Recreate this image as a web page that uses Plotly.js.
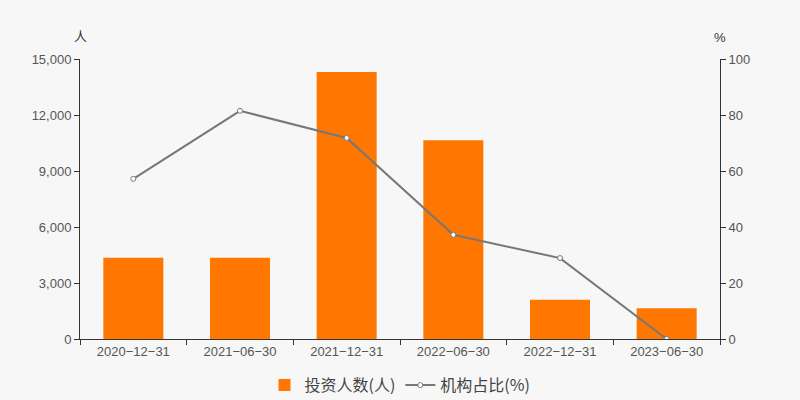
<!DOCTYPE html>
<html><head><meta charset="utf-8">
<script src="https://cdn.plot.ly/plotly-3.0.1.min.js"></script>
<style>body{margin:0;background:#f7f7f7;}#c{width:800px;height:400px;}</style>
</head><body><div id="c"></div>
<script>
var categories = ["2020−12−31","2021−06−30","2021−12−31","2022−06−30","2022−12−31","2023−06−30"];
var investors = [4350, 4350, 14300, 10650, 2100, 1650];
var instPct = [57.2, 81.5, 71.8, 37.2, 28.9, 0];
var seriesNames = ["投资人数(人)", "机构占比(%)"];

var tickFont = "'Liberation Sans', Arial, sans-serif";
var cjkFont = "'Noto Sans CJK SC', 'Liberation Sans', Arial, sans-serif";
var data = [
  {type:"bar", x:categories, y:investors, name:seriesNames[0], marker:{color:"#ff7700"}, width:0.5625, yaxis:"y"},
  {type:"scatter", mode:"lines+markers", x:categories, y:instPct, name:seriesNames[1], yaxis:"y2",
   line:{color:"#777777", width:2}, marker:{symbol:"circle", size:5, color:"#ffffff", line:{color:"#777777", width:1}}}
];
var layout = {
  width:800, height:400,
  paper_bgcolor:"#f7f7f7", plot_bgcolor:"#f7f7f7",
  margin:{l:80, r:80, t:59, b:61, autoexpand:false},
  font:{family:tickFont, size:13, color:"#555"},
  showlegend:true,
  legend:{orientation:"h", x:0.5, xanchor:"center", y:-0.165, yanchor:"middle", font:{family:cjkFont, size:16, color:"#444"}},
  xaxis:{type:"category", showline:true, linecolor:"#333", linewidth:1, ticks:"outside", tickson:"boundaries", ticklen:5, tickcolor:"#333",
         showgrid:false, zeroline:false, tickfont:{family:tickFont, size:13, color:"#555"}},
  yaxis:{range:[0,15000], tickvals:[0,3000,6000,9000,12000,15000], ticktext:["0","3,000","6,000","9,000","12,000","15,000"],
         showline:true, linecolor:"#333", ticks:"outside", ticklen:5, tickcolor:"#333", showgrid:false, zeroline:false,
         tickfont:{family:tickFont, size:13, color:"#555"}},
  yaxis2:{overlaying:"y", side:"right", range:[0,100], tickvals:[0,20,40,60,80,100],
          showline:true, linecolor:"#333", ticks:"outside", ticklen:5, tickcolor:"#333", showgrid:false, zeroline:false,
          tickfont:{family:tickFont, size:13, color:"#555"}},
  annotations:[
    {text:"人", xref:"paper", yref:"paper", x:0, y:1, xanchor:"center", yanchor:"bottom", yshift:12, showarrow:false, font:{family:cjkFont, size:13, color:"#333"}},
    {text:"%", xref:"paper", yref:"paper", x:1, y:1, xanchor:"center", yanchor:"bottom", yshift:12, showarrow:false, font:{family:tickFont, size:13, color:"#333"}}
  ]
};
Plotly.newPlot("c", data, layout, {displayModeBar:false});
</script></body></html>
